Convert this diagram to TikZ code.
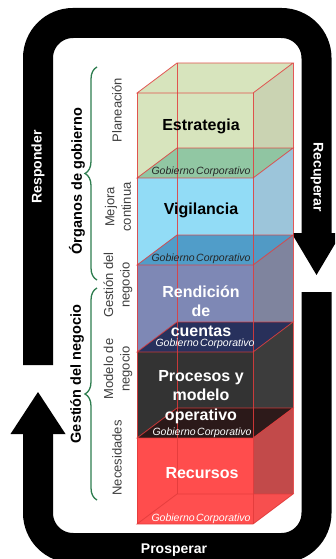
\documentclass[tikz,border=0pt]{standalone}
\usepackage{fontspec}
\setmainfont{Liberation Sans}
\usetikzlibrary{decorations.pathreplacing}
\definecolor{estF}{HTML}{D7E4BD}
\definecolor{estS}{HTML}{CAD3B2}
\definecolor{estB}{HTML}{88C4A0}
\definecolor{vigF}{HTML}{92DCF6}
\definecolor{vigS}{HTML}{9CC5DA}
\definecolor{vigB}{HTML}{4795C3}
\definecolor{renF}{HTML}{7E88B5}
\definecolor{renS}{HTML}{7F849E}
\definecolor{renB}{HTML}{1C2551}
\definecolor{proF}{HTML}{333333}
\definecolor{proS}{HTML}{3C3C3C}
\definecolor{proB}{HTML}{2B1616}
\definecolor{recF}{HTML}{FF4D4D}
\definecolor{recS}{HTML}{C24A4A}
\definecolor{recB}{HTML}{FF5050}
\definecolor{edgeRed}{HTML}{E23B3B}
\definecolor{braceGreen}{HTML}{2E7D4F}
\definecolor{labelGray}{HTML}{3F3F3F}
\newcommand\cubelayer[5]{%
  \fill[#3] (137,#1) rectangle (253,#2);
  \fill[#4] (253,#1) -- (293,#1-30) -- (293,#2-30) -- (253,#2) -- cycle;
  \fill[#5,opacity=0.88] (137,#2) -- (253,#2) -- (293,#2-30) -- (177,#2-30) -- cycle;
}
\begin{document}
\begin{tikzpicture}[x=1pt,y=-1pt,
  band/.style={line width=30pt,rounded corners=35pt,draw=black},
  tip/.style={fill=black},
  bigtxt/.style={font=\fontsize{16}{19.5}\selectfont\bfseries,align=center,inner sep=0pt},
  gctxt/.style={font=\fontsize{10.5}{12}\selectfont\itshape,inner sep=0pt},
  sidelbl/.style={rotate=90,font=\fontsize{13}{16.5}\selectfont,text=labelGray,align=center,inner sep=0pt},
  grouplbl/.style={rotate=90,font=\fontsize{14.5}{17}\selectfont\bfseries,inner sep=0pt},
  bandlbl/.style={font=\fontsize{14}{17}\selectfont\bfseries,text=white,inner sep=0pt},
  cubeedge/.style={draw=edgeRed,draw opacity=0.85,line width=0.8pt},
  bracestyle/.style={draw=braceGreen,line width=1.3pt,decorate,decoration={brace,amplitude=12pt}}]
\useasboundingbox (0,0) rectangle (335,559);
\clip (0,0) rectangle (335,559);
\fill[white] (0,0) rectangle (335,559);

% loop bands
\coordinate (a1) at (38,365);
\coordinate (a2) at (38,23);
\coordinate (a3) at (316.5,23);
\coordinate (a4) at (316.5,234);
\draw[band] (a1) -- (a2) -- (a3) -- (a4);
\fill[tip] (291.5,233) -- (341.5,233) -- (316.5,275) -- cycle;
\coordinate (b1) at (316.5,292);
\coordinate (b2) at (316.5,548);
\coordinate (b3) at (38,548);
\coordinate (b4) at (38,433);
\draw[band] (b1) -- (b2) -- (b3) -- (b4);
\fill[tip] (10.5,434) -- (65.5,434) -- (38,392) -- cycle;

\node[bandlbl,rotate=90] (resp) at (38,167) {Responder};
\node[bandlbl,rotate=-90] (recu) at (317,177) {Recuperar};
\node[bandlbl] (prosp) at (174,550) {Prosperar};

% cube
\fill[estF] (137,93) -- (177,63) -- (293,63) -- (253,93) -- cycle;
\cubelayer{93}{178}{estF}{estS}{estB}
\cubelayer{178}{265}{vigF}{vigS}{vigB}
\cubelayer{265}{352}{renF}{renS}{renB}
\cubelayer{352}{438}{proF}{proS}{proB}
\cubelayer{438}{524}{recF}{recS}{recB}

\draw[cubeedge] (137,93) -- (137,524);
\draw[cubeedge] (253,93) -- (253,524);
\draw[cubeedge] (177,63) -- (177,494);
\draw[cubeedge] (293,63) -- (293,494);
\foreach \yy in {93,178,265,352,438,524}{
  \draw[cubeedge] (137,\yy) -- (253,\yy) -- (293,\yy-30) -- (177,\yy-30) -- cycle;
}

\node[bigtxt,text=black] (estr) at (201,126) {Estrategia};
\node[bigtxt,text=black] (vigi) at (201,210) {Vigilancia};
\node[bigtxt,text=white] (rend) at (201,311) {Rendición\\de\\cuentas};
\node[bigtxt,text=white] (proc) at (201,397) {Procesos y\\modelo\\operativo};
\node[bigtxt,text=white] (recs) at (202,473) {Recursos};

\node[gctxt,text=black!85] (gc1) at (201,172) {Gobierno\hspace{1.5pt}Corporativo};
\node[gctxt,text=black!85] (gc2) at (201,259) {Gobierno\hspace{1.5pt}Corporativo};
\node[gctxt,text=white] (gc3) at (205,344) {Gobierno\hspace{1.5pt}Corporativo};
\node[gctxt,text=white] (gc4) at (202,433) {Gobierno\hspace{1.5pt}Corporativo};
\node[gctxt,text=white] (gc5) at (201,519) {Gobierno\hspace{1.5pt}Corporativo};

% side labels
\node[sidelbl] (plan) at (117,110) {Planeación};
\node[sidelbl] (mejo) at (118,207) {Mejora\\continua};
\node[sidelbl] (gest) at (118,285) {Gestión del\\negocio};
\node[sidelbl] (mode) at (118,369) {Modelo de\\negocio};
\node[sidelbl] (nece) at (117,458) {Necesidades};

% braces
\coordinate (br1a) at (97,280);
\coordinate (br1b) at (97,67);
\coordinate (br2a) at (97,500);
\coordinate (br2b) at (97,288);
\draw[bracestyle] (br1a) -- (br1b);
\draw[bracestyle] (br2a) -- (br2b);

\node[grouplbl] (organos) at (77,181) {Órganos de gobierno};
\node[grouplbl] (gestneg) at (77,374) {Gestión del negocio};
\end{tikzpicture}
\end{document}
